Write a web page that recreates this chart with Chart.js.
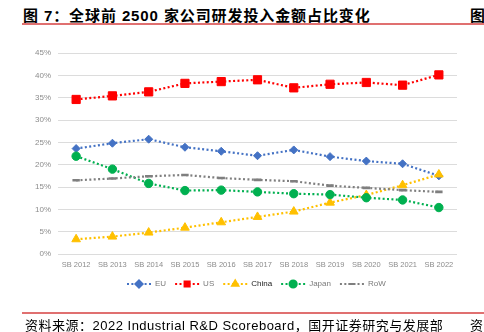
<!DOCTYPE html>
<html>
<head>
<meta charset="utf-8">
<script src="https://cdn.jsdelivr.net/npm/chart.js@4/dist/chart.umd.min.js"></script>
<style>
  html, body { margin: 0; padding: 0; background: #fff; }
  body { width: 484px; height: 332px; position: relative; overflow: hidden; font-family: "Liberation Sans", "Noto Sans CJK SC", sans-serif; }
  #titulo { position: absolute; left: 23px; top: 4px; font-size: 15px; letter-spacing: 0.9px; font-weight: bold; color: #000; white-space: nowrap; }
  #titulo2 { position: absolute; left: 470px; top: 4px; font-size: 15px; font-weight: bold; color: #000; }
  .linha { position: absolute; left: 22px; width: 462px; height: 1.5px; background: #e07070; }
  #fonte { position: absolute; left: 25px; top: 315px; font-size: 13px; letter-spacing: 0.5px; color: #000; white-space: nowrap; }
  #fonte2 { position: absolute; left: 470px; top: 315px; font-size: 13px; color: #000; }
  #box { position: absolute; left: 0; top: 0; width: 484px; height: 332px; }
</style>
</head>
<body>
<div id="titulo">图 7：全球前 2500 家公司研发投入金额占比变化</div>
<div id="titulo2">图</div>
<div class="linha" style="top:23px"></div>
<div id="box"><canvas id="grafico" width="484" height="332"></canvas></div>
<div class="linha" style="top:312px"></div>
<div id="fonte">资料来源：2022 Industrial R&amp;D Scoreboard，国开证券研究与发展部</div>
<div id="fonte2">资</div>
<script>
// Eixo X: edições do Scoreboard
const anos = ['SB 2012', 'SB 2013', 'SB 2014', 'SB 2015', 'SB 2016', 'SB 2017', 'SB 2018', 'SB 2019', 'SB 2020', 'SB 2021', 'SB 2022'];

// Participação (%) de cada região no total de P&D
const eu    = [23.6, 24.8, 25.7, 23.9, 23.0, 22.0, 23.3, 21.8, 20.8, 20.2, 17.5];
const us    = [34.6, 35.4, 36.3, 38.2, 38.6, 39.0, 37.2, 38.0, 38.4, 37.8, 40.1];
const china = [3.3, 3.9, 4.8, 5.9, 7.1, 8.3, 9.5, 11.5, 13.2, 15.4, 17.8];
const japan = [21.9, 19.0, 15.8, 14.2, 14.3, 13.9, 13.5, 13.3, 12.6, 12.1, 10.4];
const row   = [16.5, 16.9, 17.4, 17.7, 17.0, 16.6, 16.3, 15.3, 14.8, 14.3, 13.9];

const ticksY = [0, 5, 10, 15, 20, 25, 30, 35, 40, 45];

const fonteEstreita = '"Liberation Sans Narrow", "Liberation Sans", sans-serif';

function serie(label, data, cor, estilo, raio, ordem, bordaPonto) {
    return {
        label: label,
        data: data,
        borderColor: cor,
        backgroundColor: cor,
        pointBackgroundColor: cor,
        pointBorderColor: cor,
        pointStyle: estilo,
        pointRadius: raio,
        pointBorderWidth: bordaPonto || 1,
        borderWidth: 2.2,
        borderDash: [2, 2.4],
        tension: 0,
        order: ordem
    };
}

const datasets = [
    serie('EU', eu, '#4472C4', 'rectRot', 4, 5),
    serie('US', us, '#FF0000', 'rect', 5.8, 4),
    serie('China', china, '#FFC000', 'triangle', 5, 3),
    serie('Japan', japan, '#00B050', 'circle', 4.2, 2),
    serie('RoW', row, '#7F7F7F', 'line', 3.7, 1, 2.6)
];

// Legenda desenhada à mão: linha pontilhada + marcador + texto
const legendaLinha = {
    id: 'legendaLinha',
    afterDraw(chart) {
        const ctx = chart.ctx;
        const y = 284;
        let x = 127;
        ctx.save();
        ctx.font = '8px ' + fonteEstreita;
        ctx.textBaseline = 'middle';
        chart.data.datasets.forEach(ds => {
            ctx.strokeStyle = ds.borderColor;
            ctx.lineWidth = 2;
            ctx.setLineDash([2, 2.4]);
            ctx.beginPath();
            ctx.moveTo(x, y);
            ctx.lineTo(x + 24, y);
            ctx.stroke();
            ctx.setLineDash([]);
            ctx.fillStyle = ds.backgroundColor;
            Chart.helpers.drawPoint(ctx, {
                pointStyle: ds.pointStyle,
                radius: ds.pointStyle === 'line' ? 3.5 : 3.6,
                borderWidth: ds.pointBorderWidth,
                rotation: 0
            }, x + 12, y);
            ctx.fillStyle = ds.label === 'China' ? '#222' : '#7a7a7a';
            const tx = x + 28;
            ctx.fillText(ds.label, tx, y);
            x = tx + ctx.measureText(ds.label).width + 9;
        });
        ctx.restore();
    }
};

const ctx = document.getElementById('grafico').getContext('2d');
new Chart(ctx, {
    type: 'line',
    data: { labels: anos, datasets: datasets },
    options: {
        responsive: false,
        animation: false,
        layout: { padding: { top: 53, right: 27, bottom: 58, left: 0 } },
        plugins: {
            legend: { display: false },
            tooltip: { enabled: false }
        },
        scales: {
            x: {
                offset: true,
                grid: { display: false, drawTicks: false },
                border: { display: false },
                ticks: {
                    color: '#8c8c8c',
                    font: { size: 7.5, family: fonteEstreita },
                    padding: 6,
                    maxRotation: 0
                },
                afterFit(scale) { scale.height = 20; }
            },
            y: {
                min: 0,
                max: 45,
                afterBuildTicks(scale) { scale.ticks = ticksY.map(v => ({ value: v })); },
                grid: { color: '#dcdcdc', lineWidth: 1, drawTicks: false },
                border: { display: false },
                ticks: {
                    color: '#8c8c8c',
                    font: { size: 8, family: fonteEstreita },
                    padding: 7,
                    callback: v => v + '%'
                },
                afterFit(scale) { scale.width = 58; }
            }
        }
    },
    plugins: [legendaLinha]
});
</script>
</body>
</html>
